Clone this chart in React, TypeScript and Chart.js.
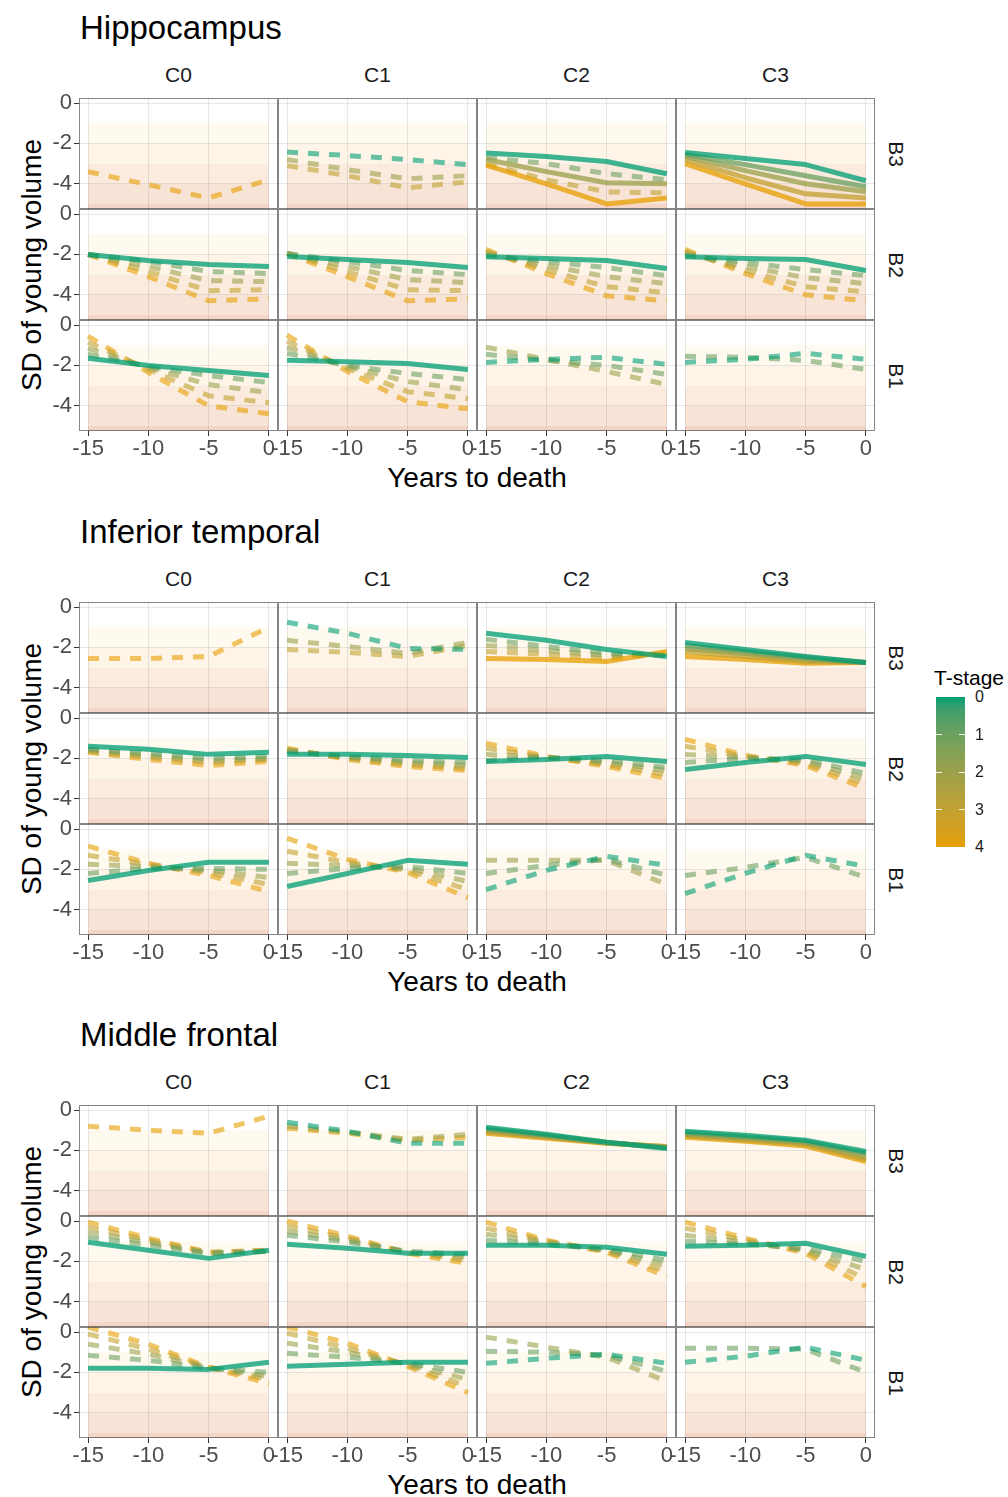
import React, { useEffect, useRef } from "react";
import { Chart, registerables } from "chart.js";

Chart.register(...registerables);

// ---------------- data ----------------
const years = [-15, -10, -5, 0];
const xTicks = [-15, -10, -5, 0];
const yTicks = [0, -2, -4];
const colLabels = ["C0", "C1", "C2", "C3"];
const rowLabels = ["B3", "B2", "B1"];
const regionTitles = ["Hippocampus", "Inferior temporal", "Middle frontal"];
const legendStages = [0, 1, 2, 3, 4];
const bandLimits = [-1, -2, -3, -4, -5];
const xLabel = "Years to death";
const yLabel = "SD of young volume";
const legendTitle = "T-stage";

// [B-row, C-column, T-stage, dashed, values at years]
type Line = [string, string, number, boolean, number[]];

const hippocampusLines: Line[] = [
  ["B3", "C0", 4, true, [-3.4, -4.05, -4.7, -3.8]],
  ["B3", "C1", 0, true, [-2.43, -2.6, -2.8, -3.05]],
  ["B3", "C1", 2, true, [-2.8, -3.3, -3.75, -3.6]],
  ["B3", "C1", 3, true, [-3.1, -3.6, -4.2, -3.9]],
  ["B3", "C2", 0, false, [-2.47, -2.65, -2.9, -3.5]],
  ["B3", "C2", 2, false, [-2.8, -3.4, -3.95, -4.0]],
  ["B3", "C2", 4, false, [-3.08, -4.0, -5.0, -4.7]],
  ["B3", "C2", 1, true, [-2.7, -3.0, -3.5, -3.8]],
  ["B3", "C2", 3, true, [-3.0, -3.8, -4.4, -4.45]],
  ["B3", "C3", 0, false, [-2.45, -2.75, -3.05, -3.85]],
  ["B3", "C3", 1, false, [-2.55, -3.05, -3.6, -4.15]],
  ["B3", "C3", 2, false, [-2.65, -3.35, -4.0, -4.4]],
  ["B3", "C3", 3, false, [-2.8, -3.7, -4.5, -4.7]],
  ["B3", "C3", 4, false, [-3.0, -4.0, -5.0, -5.0]],
  ["B2", "C0", 0, false, [-2.0, -2.3, -2.5, -2.6]],
  ["B2", "C0", 1, true, [-2.0, -2.35, -2.85, -2.95]],
  ["B2", "C0", 2, true, [-2.0, -2.6, -3.3, -3.35]],
  ["B2", "C0", 3, true, [-2.0, -2.85, -3.8, -3.75]],
  ["B2", "C0", 4, true, [-2.0, -3.1, -4.3, -4.2]],
  ["B2", "C1", 0, false, [-2.1, -2.25, -2.4, -2.65]],
  ["B2", "C1", 1, true, [-1.95, -2.35, -2.8, -3.0]],
  ["B2", "C1", 2, true, [-1.95, -2.6, -3.25, -3.4]],
  ["B2", "C1", 3, true, [-1.95, -2.85, -3.75, -3.8]],
  ["B2", "C1", 4, true, [-1.95, -3.1, -4.3, -4.2]],
  ["B2", "C2", 0, false, [-2.12, -2.2, -2.3, -2.7]],
  ["B2", "C2", 1, true, [-2.05, -2.35, -2.65, -3.05]],
  ["B2", "C2", 2, true, [-1.95, -2.55, -3.1, -3.45]],
  ["B2", "C2", 3, true, [-1.85, -2.75, -3.6, -3.9]],
  ["B2", "C2", 4, true, [-1.75, -2.95, -4.05, -4.3]],
  ["B2", "C3", 0, false, [-2.12, -2.2, -2.25, -2.8]],
  ["B2", "C3", 1, true, [-2.05, -2.4, -2.75, -3.05]],
  ["B2", "C3", 2, true, [-1.95, -2.6, -3.15, -3.45]],
  ["B2", "C3", 3, true, [-1.85, -2.8, -3.6, -3.85]],
  ["B2", "C3", 4, true, [-1.75, -2.95, -4.0, -4.3]],
  ["B1", "C0", 0, false, [-1.65, -2.0, -2.25, -2.5]],
  ["B1", "C0", 1, true, [-1.45, -2.05, -2.5, -2.85]],
  ["B1", "C0", 2, true, [-1.15, -2.1, -2.95, -3.35]],
  ["B1", "C0", 3, true, [-0.85, -2.2, -3.5, -3.85]],
  ["B1", "C0", 4, true, [-0.55, -2.35, -4.0, -4.4]],
  ["B1", "C1", 0, false, [-1.75, -1.82, -1.9, -2.2]],
  ["B1", "C1", 1, true, [-1.4, -2.0, -2.4, -2.7]],
  ["B1", "C1", 2, true, [-1.1, -2.05, -2.8, -3.2]],
  ["B1", "C1", 3, true, [-0.8, -2.15, -3.3, -3.65]],
  ["B1", "C1", 4, true, [-0.5, -2.3, -3.8, -4.15]],
  ["B1", "C2", 0, true, [-1.85, -1.7, -1.6, -1.95]],
  ["B1", "C2", 1, true, [-1.45, -1.75, -2.0, -2.45]],
  ["B1", "C2", 2, true, [-1.1, -1.7, -2.3, -2.95]],
  ["B1", "C3", 0, true, [-1.85, -1.7, -1.4, -1.7]],
  ["B1", "C3", 1, true, [-1.55, -1.6, -1.75, -2.2]],
];

const inferiorTemporalLines: Line[] = [
  ["B3", "C0", 4, true, [-2.55, -2.55, -2.45, -1.0]],
  ["B3", "C1", 0, true, [-0.75, -1.3, -2.05, -2.1]],
  ["B3", "C1", 2, true, [-1.65, -1.95, -2.3, -1.75]],
  ["B3", "C1", 3, true, [-2.1, -2.25, -2.45, -1.9]],
  ["B3", "C2", 0, false, [-1.3, -1.65, -2.1, -2.45]],
  ["B3", "C2", 4, false, [-2.55, -2.6, -2.7, -2.2]],
  ["B3", "C2", 1, true, [-1.6, -1.95, -2.3, -2.4]],
  ["B3", "C2", 2, true, [-1.9, -2.15, -2.4, -2.35]],
  ["B3", "C2", 3, true, [-2.2, -2.35, -2.55, -2.3]],
  ["B3", "C3", 0, false, [-1.75, -2.1, -2.45, -2.75]],
  ["B3", "C3", 1, false, [-1.9, -2.2, -2.5, -2.75]],
  ["B3", "C3", 2, false, [-2.05, -2.3, -2.6, -2.75]],
  ["B3", "C3", 3, false, [-2.2, -2.45, -2.7, -2.75]],
  ["B3", "C3", 4, false, [-2.45, -2.6, -2.78, -2.75]],
  ["B2", "C0", 0, false, [-1.4, -1.55, -1.8, -1.7]],
  ["B2", "C0", 1, true, [-1.55, -1.75, -2.0, -1.9]],
  ["B2", "C0", 2, true, [-1.6, -1.85, -2.1, -2.0]],
  ["B2", "C0", 3, true, [-1.65, -1.95, -2.2, -2.05]],
  ["B2", "C0", 4, true, [-1.7, -2.05, -2.35, -2.15]],
  ["B2", "C1", 0, false, [-1.8, -1.8, -1.85, -1.95]],
  ["B2", "C1", 1, true, [-1.65, -1.9, -2.1, -2.2]],
  ["B2", "C1", 2, true, [-1.6, -1.95, -2.2, -2.35]],
  ["B2", "C1", 3, true, [-1.55, -2.0, -2.3, -2.5]],
  ["B2", "C1", 4, true, [-1.5, -2.05, -2.4, -2.6]],
  ["B2", "C2", 0, false, [-2.15, -2.05, -1.9, -2.15]],
  ["B2", "C2", 1, true, [-2.1, -1.95, -2.1, -2.45]],
  ["B2", "C2", 2, true, [-1.8, -1.95, -2.2, -2.6]],
  ["B2", "C2", 3, true, [-1.5, -1.95, -2.3, -2.8]],
  ["B2", "C2", 4, true, [-1.25, -1.9, -2.4, -3.0]],
  ["B2", "C3", 0, false, [-2.55, -2.2, -1.9, -2.3]],
  ["B2", "C3", 1, true, [-2.2, -2.0, -2.05, -2.75]],
  ["B2", "C3", 2, true, [-1.8, -1.95, -2.15, -3.0]],
  ["B2", "C3", 3, true, [-1.4, -1.9, -2.25, -3.25]],
  ["B2", "C3", 4, true, [-1.05, -1.85, -2.35, -3.5]],
  ["B1", "C0", 0, false, [-2.55, -2.05, -1.65, -1.65]],
  ["B1", "C0", 1, true, [-2.2, -1.95, -1.95, -2.0]],
  ["B1", "C0", 2, true, [-1.75, -1.85, -2.05, -2.4]],
  ["B1", "C0", 3, true, [-1.3, -1.75, -2.15, -2.75]],
  ["B1", "C0", 4, true, [-0.85, -1.7, -2.3, -3.1]],
  ["B1", "C1", 0, false, [-2.85, -2.2, -1.55, -1.75]],
  ["B1", "C1", 1, true, [-2.2, -1.95, -1.85, -2.2]],
  ["B1", "C1", 2, true, [-1.7, -1.8, -1.95, -2.6]],
  ["B1", "C1", 3, true, [-1.1, -1.65, -2.05, -3.0]],
  ["B1", "C1", 4, true, [-0.45, -1.5, -2.15, -3.4]],
  ["B1", "C2", 0, true, [-3.0, -2.05, -1.35, -1.8]],
  ["B1", "C2", 1, true, [-2.2, -1.8, -1.5, -2.3]],
  ["B1", "C2", 2, true, [-1.55, -1.55, -1.55, -2.75]],
  ["B1", "C3", 0, true, [-3.2, -2.2, -1.3, -1.85]],
  ["B1", "C3", 1, true, [-2.3, -1.9, -1.4, -2.4]],
];

const middleFrontalLines: Line[] = [
  ["B3", "C0", 4, true, [-0.8, -1.0, -1.15, -0.3]],
  ["B3", "C1", 0, true, [-0.6, -1.05, -1.65, -1.65]],
  ["B3", "C1", 2, true, [-0.8, -1.1, -1.45, -1.2]],
  ["B3", "C1", 4, true, [-0.9, -1.15, -1.5, -1.35]],
  ["B3", "C2", 0, false, [-0.85, -1.2, -1.6, -1.9]],
  ["B3", "C2", 1, false, [-0.92, -1.25, -1.6, -1.87]],
  ["B3", "C2", 2, false, [-1.0, -1.3, -1.62, -1.85]],
  ["B3", "C2", 3, false, [-1.07, -1.35, -1.63, -1.82]],
  ["B3", "C2", 4, false, [-1.15, -1.4, -1.65, -1.8]],
  ["B3", "C3", 0, false, [-1.05, -1.25, -1.5, -2.05]],
  ["B3", "C3", 1, false, [-1.12, -1.32, -1.55, -2.15]],
  ["B3", "C3", 2, false, [-1.2, -1.4, -1.62, -2.3]],
  ["B3", "C3", 3, false, [-1.28, -1.48, -1.7, -2.45]],
  ["B3", "C3", 4, false, [-1.35, -1.55, -1.78, -2.55]],
  ["B2", "C0", 0, false, [-1.05, -1.45, -1.85, -1.45]],
  ["B2", "C0", 1, true, [-0.8, -1.2, -1.6, -1.5]],
  ["B2", "C0", 2, true, [-0.55, -1.05, -1.6, -1.5]],
  ["B2", "C0", 3, true, [-0.3, -0.95, -1.55, -1.45]],
  ["B2", "C0", 4, true, [-0.05, -0.85, -1.55, -1.45]],
  ["B2", "C1", 0, false, [-1.15, -1.35, -1.6, -1.6]],
  ["B2", "C1", 1, true, [-0.7, -1.05, -1.5, -1.65]],
  ["B2", "C1", 2, true, [-0.5, -0.95, -1.55, -1.8]],
  ["B2", "C1", 3, true, [-0.25, -0.85, -1.55, -1.95]],
  ["B2", "C1", 4, true, [0.0, -0.75, -1.6, -2.1]],
  ["B2", "C2", 0, false, [-1.2, -1.2, -1.3, -1.65]],
  ["B2", "C2", 1, true, [-0.95, -1.15, -1.4, -1.95]],
  ["B2", "C2", 2, true, [-0.65, -1.05, -1.45, -2.2]],
  ["B2", "C2", 3, true, [-0.35, -1.0, -1.5, -2.5]],
  ["B2", "C2", 4, true, [-0.05, -0.95, -1.55, -2.75]],
  ["B2", "C3", 0, false, [-1.25, -1.2, -1.1, -1.75]],
  ["B2", "C3", 1, true, [-1.0, -1.15, -1.35, -2.0]],
  ["B2", "C3", 2, true, [-0.7, -1.05, -1.45, -2.4]],
  ["B2", "C3", 3, true, [-0.35, -0.95, -1.5, -2.85]],
  ["B2", "C3", 4, true, [-0.05, -0.85, -1.6, -3.25]],
  ["B1", "C0", 0, false, [-1.8, -1.8, -1.85, -1.5]],
  ["B1", "C0", 1, true, [-1.15, -1.4, -1.8, -2.0]],
  ["B1", "C0", 2, true, [-0.6, -1.1, -1.75, -2.2]],
  ["B1", "C0", 3, true, [-0.1, -0.85, -1.75, -2.35]],
  ["B1", "C0", 4, true, [0.25, -0.6, -1.75, -2.55]],
  ["B1", "C1", 0, false, [-1.7, -1.6, -1.5, -1.5]],
  ["B1", "C1", 1, true, [-1.05, -1.25, -1.55, -2.0]],
  ["B1", "C1", 2, true, [-0.55, -1.0, -1.6, -2.35]],
  ["B1", "C1", 3, true, [-0.05, -0.8, -1.65, -2.7]],
  ["B1", "C1", 4, true, [0.25, -0.55, -1.7, -3.0]],
  ["B1", "C2", 0, true, [-1.55, -1.3, -1.1, -1.55]],
  ["B1", "C2", 1, true, [-0.95, -1.0, -1.15, -1.95]],
  ["B1", "C2", 2, true, [-0.25, -0.75, -1.25, -2.45]],
  ["B1", "C3", 0, true, [-1.5, -1.2, -0.75, -1.4]],
  ["B1", "C3", 1, true, [-0.8, -0.8, -0.85, -2.0]],
];

const regionLines = [hippocampusLines, inferiorTemporalLines, middleFrontalLines];

// ---------------- styles / layout ----------------
const FONT = "'Liberation Sans', Arial, Helvetica, sans-serif";
const LOW = "#009E73";
const HIGH = "#E69F00";
const BAND_COLORS = ["#fffaf0", "#fef4e8", "#fbebde", "#f8e3d7", "#f3d6c8"];
const GRID_LEFT = 79;
const PANEL_W = 199;
const PANEL_H = 111;
const SECTION_TOPS = [98, 602, 1105];
const X_MIN = -15.75, X_MAX = 0.75, Y_MIN = -5.25, Y_MAX = 0.25;

// colour interpolation in CIE Lab (as ggplot's gradient scale)
function hexToRgb(h: string) {
  return [1, 3, 5].map((i) => parseInt(h.slice(i, i + 2), 16));
}
function rgbToLab(rgb: number[]) {
  const lin = rgb.map((c) => {
    c /= 255;
    return c <= 0.04045 ? c / 12.92 : Math.pow((c + 0.055) / 1.055, 2.4);
  });
  const X = (0.4124 * lin[0] + 0.3576 * lin[1] + 0.1805 * lin[2]) / 0.95047;
  const Y = 0.2126 * lin[0] + 0.7152 * lin[1] + 0.0722 * lin[2];
  const Z = (0.0193 * lin[0] + 0.1192 * lin[1] + 0.9505 * lin[2]) / 1.08883;
  const f = (t: number) => (t > 0.008856 ? Math.cbrt(t) : 7.787 * t + 16 / 116);
  const fx = f(X), fy = f(Y), fz = f(Z);
  return [116 * fy - 16, 500 * (fx - fy), 200 * (fy - fz)];
}
function labToRgb(lab: number[]) {
  const fy = (lab[0] + 16) / 116;
  const fx = lab[1] / 500 + fy;
  const fz = fy - lab[2] / 200;
  const inv = (t: number) => (t * t * t > 0.008856 ? t * t * t : (t - 16 / 116) / 7.787);
  const X = inv(fx) * 0.95047, Y = inv(fy), Z = inv(fz) * 1.08883;
  const r = 3.2406 * X - 1.5372 * Y - 0.4986 * Z;
  const g = -0.9689 * X + 1.8758 * Y + 0.0415 * Z;
  const b = 0.0557 * X - 0.204 * Y + 1.057 * Z;
  return [r, g, b].map((c) => {
    const v = c <= 0.0031308 ? 12.92 * c : 1.055 * Math.pow(c, 1 / 2.4) - 0.055;
    return Math.max(0, Math.min(255, Math.round(v * 255)));
  });
}
const LAB_LOW = rgbToLab(hexToRgb(LOW));
const LAB_HIGH = rgbToLab(hexToRgb(HIGH));
function stageRgb(t: number) {
  const f = t / 4;
  return labToRgb(LAB_LOW.map((v, i) => v + (LAB_HIGH[i] - v) * f));
}
function stageColor(t: number, a: number) {
  const [r, g, b] = stageRgb(t);
  return `rgba(${r},${g},${b},${a})`;
}

const panelPlugin = {
  id: "panelDecor",
  beforeDraw(chart: any) {
    const { ctx, chartArea: a, scales } = chart;
    const x = scales.x, y = scales.y;
    ctx.save();
    ctx.fillStyle = "#ffffff";
    ctx.fillRect(a.left, a.top, a.right - a.left, a.bottom - a.top);
    const x0 = x.getPixelForValue(years[0]);
    const x1 = x.getPixelForValue(years[years.length - 1]);
    bandLimits.forEach((lim, i) => {
      const yt = y.getPixelForValue(lim);
      const yb = i + 1 < bandLimits.length ? y.getPixelForValue(bandLimits[i + 1]) : a.bottom;
      ctx.fillStyle = BAND_COLORS[i];
      ctx.fillRect(x0, yt, x1 - x0, yb - yt);
    });
    ctx.restore();
  },
  afterDraw(chart: any) {
    const { ctx, chartArea: a } = chart;
    ctx.save();
    ctx.strokeStyle = "rgba(51,51,51,0.6)";
    ctx.lineWidth = 1;
    ctx.strokeRect(a.left + 0.5, a.top + 0.5, a.right - a.left - 1, a.bottom - a.top - 1);
    ctx.restore();
  },
};

function Panel({ lines, row, col, top }: { lines: Line[]; row: number; col: number; top: number }) {
  const ref = useRef<HTMLCanvasElement>(null);
  const isLeft = col === 0;
  const isBottom = row === rowLabels.length - 1;
  const ML = isLeft ? 58 : isBottom ? 20 : 0;
  const MR = isBottom ? 20 : 0;
  const MB = isBottom ? 36 : 0;
  const MT = isLeft ? 14 : 0;
  const W = ML + PANEL_W + MR;
  const H = MT + PANEL_H + MB;
  const left = GRID_LEFT + col * PANEL_W;

  useEffect(() => {
    const mine = lines.filter((l) => l[0] === rowLabels[row] && l[1] === colLabels[col]);
    const sorted = [...mine].sort((a, b) => {
      if (a[3] !== b[3]) return a[3] ? 1 : -1;
      return a[2] - b[2];
    });
    const datasets = sorted.map((l) => ({
      data: years.map((x, i) => ({ x, y: l[4][i] })),
      borderColor: stageColor(l[2], l[3] ? 0.6 : 0.76),
      borderWidth: 5,
      borderDash: l[3] ? [11, 10] : [],
      borderCapStyle: "butt",
      borderJoinStyle: "round",
      pointRadius: 0,
      tension: 0,
      fill: false,
      clip: 0,
    }));
    const tickFont = { family: FONT, size: 22 };
    const chart = new Chart(ref.current as HTMLCanvasElement, {
      type: "line",
      data: { datasets } as any,
      plugins: [panelPlugin],
      options: {
        animation: false,
        responsive: false,
        events: [],
        layout: {
          autoPadding: false,
          padding: { left: isLeft ? 0 : ML, right: MR, top: MT, bottom: 0 },
        } as any,
        plugins: { legend: { display: false }, tooltip: { enabled: false } },
        scales: {
          x: {
            type: "linear",
            min: X_MIN,
            max: X_MAX,
            afterBuildTicks: (s: any) => {
              s.ticks = xTicks.map((v) => ({ value: v }));
            },
            afterFit: (s: any) => {
              s.height = MB;
              s.paddingLeft = 0;
              s.paddingRight = 0;
              s.paddingTop = 0;
              s.paddingBottom = 0;
            },
            ticks: {
              display: isBottom,
              font: tickFont,
              color: "#4d4d4d",
              padding: 0,
              maxRotation: 0,
              autoSkip: false,
              callback: (v: any) => String(v),
            },
            grid: {
              color: "rgba(0,0,0,0.085)",
              lineWidth: 1,
              drawTicks: isBottom,
              tickLength: 5,
              tickColor: "#333333",
            },
            border: { display: false },
          },
          y: {
            type: "linear",
            min: Y_MIN,
            max: Y_MAX,
            afterBuildTicks: (s: any) => {
              s.ticks = yTicks.map((v) => ({ value: v }));
            },
            afterFit: (s: any) => {
              s.width = isLeft ? ML : 0;
              s.paddingLeft = 0;
              s.paddingRight = 0;
              s.paddingTop = 0;
              s.paddingBottom = 0;
            },
            ticks: {
              display: isLeft,
              font: tickFont,
              color: "#4d4d4d",
              padding: 2,
              autoSkip: false,
              callback: (v: any) => String(v),
            },
            grid: {
              color: "rgba(0,0,0,0.085)",
              lineWidth: 1,
              drawTicks: isLeft,
              tickLength: 5,
              tickColor: "#333333",
            },
            border: { display: false },
          },
        },
      } as any,
    });
    return () => chart.destroy();
  }, []);

  return (
    <canvas
      ref={ref}
      width={W}
      height={H}
      style={{ position: "absolute", left: left - ML, top: top - MT, width: W, height: H }}
    />
  );
}

const textBase: React.CSSProperties = {
  position: "absolute",
  whiteSpace: "nowrap",
  fontFamily: FONT,
  lineHeight: 1,
};

function Section({ idx }: { idx: number }) {
  const top = SECTION_TOPS[idx];
  const gridW = PANEL_W * colLabels.length;
  const gridH = PANEL_H * rowLabels.length;
  const items: React.ReactNode[] = [];
  items.push(
    <div key="title" style={{ ...textBase, left: 80, top: top - 71, fontSize: 33, color: "#000", transform: "translateY(-50%)" }}>
      {regionTitles[idx]}
    </div>
  );
  colLabels.forEach((c, ci) => {
    items.push(
      <div
        key={"c" + c}
        style={{ ...textBase, left: GRID_LEFT + ci * PANEL_W + PANEL_W / 2, top: top - 24, fontSize: 21, color: "#1a1a1a", transform: "translate(-50%,-50%)" }}
      >
        {c}
      </div>
    );
  });
  rowLabels.forEach((r, ri) => {
    items.push(
      <div
        key={"r" + r}
        style={{ ...textBase, left: GRID_LEFT + gridW + 21, top: top + ri * PANEL_H + PANEL_H / 2, fontSize: 21, color: "#1a1a1a", transform: "translate(-50%,-50%) rotate(90deg)" }}
      >
        {r}
      </div>
    );
  });
  items.push(
    <div key="xl" style={{ ...textBase, left: GRID_LEFT + gridW / 2, top: top + gridH + 47, fontSize: 28, color: "#000", transform: "translate(-50%,-50%)" }}>
      {xLabel}
    </div>
  );
  items.push(
    <div key="yl" style={{ ...textBase, left: 32, top: top + gridH / 2, fontSize: 28, color: "#000", transform: "translate(-50%,-50%) rotate(-90deg)" }}>
      {yLabel}
    </div>
  );
  rowLabels.forEach((_, ri) =>
    colLabels.forEach((__, ci) => {
      items.push(<Panel key={`p${ri}${ci}`} lines={regionLines[idx]} row={ri} col={ci} top={top + ri * PANEL_H} />);
    })
  );
  return <>{items}</>;
}

function Legend() {
  const barLeft = 936, barTop = 697, barW = 29, barH = 150;
  const stops = [];
  for (let i = 0; i <= 16; i++) {
    const t = (i / 16) * 4;
    const [r, g, b] = stageRgb(t);
    stops.push(`rgb(${r},${g},${b}) ${(i / 16) * 100}%`);
  }
  const maxStage = legendStages[legendStages.length - 1];
  return (
    <>
      <div style={{ ...textBase, left: 934, top: 677, fontSize: 21, color: "#000", transform: "translateY(-50%)" }}>{legendTitle}</div>
      <div
        style={{ position: "absolute", left: barLeft, top: barTop, width: barW, height: barH, background: `linear-gradient(to bottom, ${stops.join(", ")})` }}
      />
      {legendStages.map((s) => {
        const yy = barTop + (s / maxStage) * barH;
        return (
          <React.Fragment key={s}>
            {s > 0 && s < maxStage && (
              <>
                <div style={{ position: "absolute", left: barLeft, top: yy - 0.5, width: 6, height: 1, background: "rgba(255,255,255,0.9)" }} />
                <div style={{ position: "absolute", left: barLeft + barW - 6, top: yy - 0.5, width: 6, height: 1, background: "rgba(255,255,255,0.9)" }} />
              </>
            )}
            <div style={{ ...textBase, left: 975, top: yy, fontSize: 16, color: "#1a1a1a", transform: "translateY(-50%)" }}>{s}</div>
          </React.Fragment>
        );
      })}
    </>
  );
}

export default function App() {
  return (
    <div style={{ position: "absolute", left: 0, top: 0, width: 1008, height: 1497, background: "#ffffff", overflow: "hidden" }}>
      {regionTitles.map((_, i) => (
        <Section key={i} idx={i} />
      ))}
      <Legend />
    </div>
  );
}
